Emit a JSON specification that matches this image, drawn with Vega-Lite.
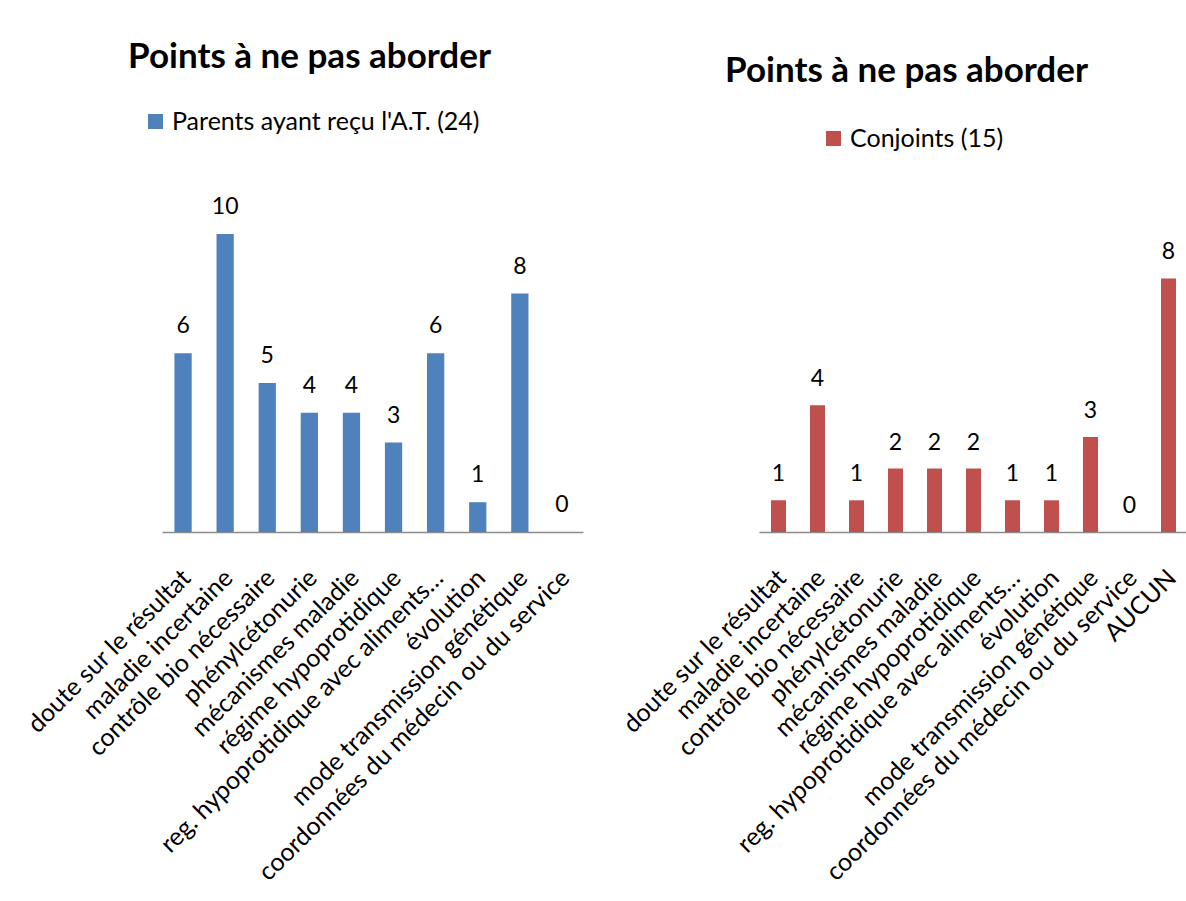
{
  "$schema": "https://vega.github.io/schema/vega-lite/v6.json",
  "background": "white",
  "padding": {"left": 22, "top": 40, "right": 0, "bottom": 0},
  "spacing": 35,
  "config": {
    "view": {"stroke": null},
    "font": "Lato",
    "title": {"font": "Lato", "fontSize": 35, "fontWeight": "bold", "color": "black", "anchor": "middle", "frame": "group"},
    "legend": {"labelFont": "Lato", "labelFontSize": 25, "labelColor": "black", "symbolType": "square", "symbolSize": 225, "symbolStrokeWidth": 0, "labelOffset": 4, "labelLimit": 0, "title": null}
  },
  "resolve": {"scale": {"color": "independent", "x": "independent", "y": "independent"}, "legend": {"color": "independent"}},
  "datasets": {
    "parents": [
      {"point": "doute sur le résultat", "n": 6, "serie": "Parents ayant reçu l'A.T. (24)"},
      {"point": "maladie incertaine", "n": 10, "serie": "Parents ayant reçu l'A.T. (24)"},
      {"point": "contrôle bio nécessaire", "n": 5, "serie": "Parents ayant reçu l'A.T. (24)"},
      {"point": "phénylcétonurie", "n": 4, "serie": "Parents ayant reçu l'A.T. (24)"},
      {"point": "mécanismes maladie", "n": 4, "serie": "Parents ayant reçu l'A.T. (24)"},
      {"point": "régime hypoprotidique", "n": 3, "serie": "Parents ayant reçu l'A.T. (24)"},
      {"point": "reg. hypoprotidique avec aliments…", "n": 6, "serie": "Parents ayant reçu l'A.T. (24)"},
      {"point": "évolution", "n": 1, "serie": "Parents ayant reçu l'A.T. (24)"},
      {"point": "mode transmission génétique", "n": 8, "serie": "Parents ayant reçu l'A.T. (24)"},
      {"point": "coordonnées du médecin ou du service", "n": 0, "serie": "Parents ayant reçu l'A.T. (24)"}
    ],
    "conjoints": [
      {"point": "doute sur le résultat", "n": 1, "serie": "Conjoints (15)"},
      {"point": "maladie incertaine", "n": 4, "serie": "Conjoints (15)"},
      {"point": "contrôle bio nécessaire", "n": 1, "serie": "Conjoints (15)"},
      {"point": "phénylcétonurie", "n": 2, "serie": "Conjoints (15)"},
      {"point": "mécanismes maladie", "n": 2, "serie": "Conjoints (15)"},
      {"point": "régime hypoprotidique", "n": 2, "serie": "Conjoints (15)"},
      {"point": "reg. hypoprotidique avec aliments…", "n": 1, "serie": "Conjoints (15)"},
      {"point": "évolution", "n": 1, "serie": "Conjoints (15)"},
      {"point": "mode transmission génétique", "n": 3, "serie": "Conjoints (15)"},
      {"point": "coordonnées du médecin ou du service", "n": 0, "serie": "Conjoints (15)"},
      {"point": "AUCUN", "n": 8, "serie": "Conjoints (15)"}
    ]
  },
  "hconcat": [
    {
      "width": 421,
      "height": 298,
      "title": {"text": "Points à ne pas aborder", "offset": 34, "dx": -63},
      "data": {"name": "parents"},
      "encoding": {
        "x": {"field": "point", "type": "nominal", "sort": null,
          "scale": {"paddingInner": 0.59, "paddingOuter": 0.295},
          "axis": {"title": null, "labelAngle": -45, "labelFont": "Lato", "labelFontSize": 25, "labelColor": "black", "ticks": false, "labelPadding": 33, "labelOffset": -5, "domainColor": "#8c8c8c", "domainWidth": 1.5, "labelLimit": 0, "labelOverlap": false}},
        "y": {"field": "n", "type": "quantitative", "scale": {"domain": [0, 10], "nice": false}, "axis": null}
      },
      "layer": [
        {"mark": {"type": "bar"},
         "encoding": {"color": {"field": "serie", "type": "nominal", "scale": {"range": ["#4F81BD"]},
           "legend": {"orient": "none", "legendX": -19, "legendY": -125}}}},
        {"mark": {"type": "text", "dy": -27, "fontSize": 23, "font": "Lato", "color": "black"},
         "encoding": {"text": {"field": "n", "type": "quantitative"}}}
      ]
    },
    {
      "width": 429,
      "height": 298,
      "title": {"text": "Points à ne pas aborder", "offset": 37, "dx": -67},
      "data": {"name": "conjoints"},
      "encoding": {
        "x": {"field": "point", "type": "nominal", "sort": null,
          "scale": {"paddingInner": 0.615, "paddingOuter": 0.3075},
          "axis": {"title": null, "labelAngle": -45, "labelFont": "Lato", "labelFontSize": 25, "labelColor": "black", "ticks": false, "labelPadding": 33, "labelOffset": -5, "domainColor": "#8c8c8c", "domainWidth": 1.5, "labelLimit": 0, "labelOverlap": false}},
        "y": {"field": "n", "type": "quantitative", "scale": {"domain": [0, 9.4], "nice": false}, "axis": null}
      },
      "layer": [
        {"mark": {"type": "bar"},
         "encoding": {"color": {"field": "serie", "type": "nominal", "scale": {"range": ["#C0504D"]},
           "legend": {"orient": "none", "legendX": 62, "legendY": -108}}}},
        {"mark": {"type": "text", "dy": -26, "fontSize": 23, "font": "Lato", "color": "black"},
         "encoding": {"text": {"field": "n", "type": "quantitative"}}}
      ]
    }
  ]
}
